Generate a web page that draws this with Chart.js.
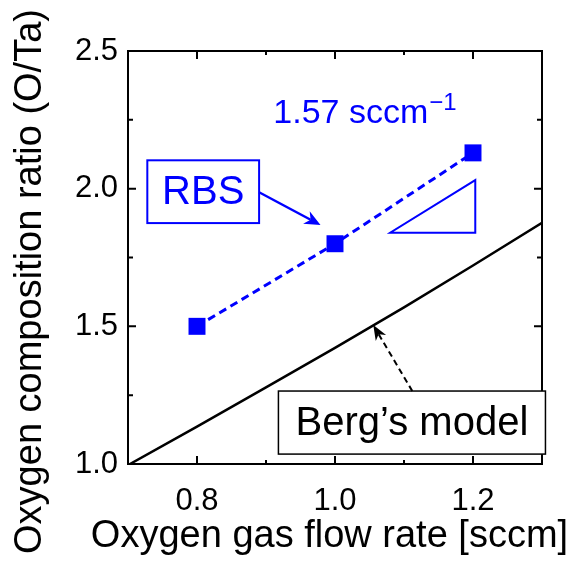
<!DOCTYPE html>
<html>
<head>
<meta charset="utf-8">
<script src="https://cdn.jsdelivr.net/npm/chart.js@4.4.0/dist/chart.umd.min.js"></script>
<style>
  html, body { margin: 0; padding: 0; background: #fff; }
  #wrap { width: 576px; height: 563px; }
</style>
</head>
<body>
<div id="wrap"><canvas id="c" width="576" height="563"></canvas></div>
<script>
// ── data ─────────────────────────────────────────
const flowRate  = [0.8, 1.0, 1.2];
const rbsRatio  = [1.50, 1.80, 2.13];
const bergFlow  = [0.70, 0.80, 0.90, 1.00, 1.10, 1.20, 1.30];
const bergRatio = [0.996, 1.136, 1.278, 1.422, 1.569, 1.721, 1.876];
const xTicks = [0.8, 1.0, 1.2];
const xMinor = [0.9, 1.1];
const yTicks = [1.0, 1.5, 2.0, 2.5];
const yMinor = [1.25, 1.75, 2.25];
const xTitle = 'Oxygen gas flow rate [sccm]';
const yTitle = 'Oxygen composition ratio (O/Ta)';
const slopeLabel = '1.57 sccm';
const slopeSup   = '\u22121';

// annotation anchors, in data units
const rbsBox    = { x0: 0.728, x1: 0.890, y0: 2.103, y1: 1.875, text: 'RBS' };
const rbsArrow  = { x0: 0.890, y0: 1.987, x1: 0.979, y1: 1.868 };
const bergBox   = { x0: 0.918, x1: 1.305, y0: 1.265, y1: 1.036, text: 'Berg\u2019s model' };
const bergArrow = { x0: 1.112, y0: 1.265, x1: 1.0555, y1: 1.5045 };
const slopeTri  = [[1.080, 1.840], [1.2033, 1.840], [1.2033, 2.031]];
const slopePos  = { x: 0.9106, y: 2.238 };

const BLUE = '#0000ff';
const FONT = '"Liberation Sans", Arial, Helvetica, sans-serif';

function arrow(ctx, x0, y0, x1, y1, len, half, dash) {
    const a = Math.atan2(y1 - y0, x1 - x0);
    const c = Math.cos(a), s = Math.sin(a);
    const nx = x1 - c * len * 0.7, ny = y1 - s * len * 0.7;
    ctx.beginPath();
    ctx.setLineDash(dash || []);
    ctx.moveTo(x0, y0);
    ctx.lineTo(nx, ny);
    ctx.stroke();
    ctx.setLineDash([]);
    ctx.beginPath();
    ctx.moveTo(x1, y1);
    ctx.lineTo(x1 - c * len + s * half, y1 - s * len - c * half);
    ctx.lineTo(nx, ny);
    ctx.lineTo(x1 - c * len - s * half, y1 - s * len + c * half);
    ctx.closePath();
    ctx.fill();
}

const deco = {
    id: 'deco',
    afterDraw(chart) {
        const { ctx, chartArea: a, scales: { x, y } } = chart;
        const X = v => x.getPixelForValue(v);
        const Y = v => y.getPixelForValue(v);
        ctx.save();

        // frame
        ctx.strokeStyle = '#000';
        ctx.lineWidth = 2;
        ctx.strokeRect(a.left, a.top, a.right - a.left, a.bottom - a.top);

        // inward ticks on all four sides
        ctx.beginPath();
        const tx = (v, l) => {
            const p = X(v);
            ctx.moveTo(p, a.bottom); ctx.lineTo(p, a.bottom - l);
            ctx.moveTo(p, a.top);    ctx.lineTo(p, a.top + l);
        };
        const ty = (v, l) => {
            const p = Y(v);
            ctx.moveTo(a.left, p);  ctx.lineTo(a.left + l, p);
            ctx.moveTo(a.right, p); ctx.lineTo(a.right - l, p);
        };
        xTicks.forEach(v => tx(v, 8));
        xMinor.forEach(v => tx(v, 4));
        yTicks.forEach(v => ty(v, 8));
        yMinor.forEach(v => ty(v, 5));
        ctx.stroke();

        // axis titles
        ctx.font = '38px ' + FONT;
        ctx.fillStyle = '#000';
        ctx.textAlign = 'center';
        ctx.textBaseline = 'middle';
        ctx.fillText(xTitle, 329.5, 537);
        ctx.save();
        ctx.translate(31, 281.5);
        ctx.rotate(-Math.PI / 2);
        ctx.fillText(yTitle, 0, 0);
        ctx.restore();

        // slope triangle
        ctx.strokeStyle = BLUE;
        ctx.lineWidth = 2;
        ctx.beginPath();
        slopeTri.forEach(([u, v], i) => i ? ctx.lineTo(X(u), Y(v)) : ctx.moveTo(X(u), Y(v)));
        ctx.closePath();
        ctx.stroke();

        // slope text
        ctx.fillStyle = BLUE;
        ctx.textAlign = 'left';
        ctx.textBaseline = 'alphabetic';
        ctx.font = '34px ' + FONT;
        const sx = X(slopePos.x), sy = Y(slopePos.y);
        ctx.fillText(slopeLabel, sx, sy);
        const w = ctx.measureText(slopeLabel).width;
        ctx.font = '24px ' + FONT;
        ctx.fillText(slopeSup, sx + w + 1, sy - 13);

        // RBS box + arrow
        ctx.fillStyle = '#fff';
        ctx.strokeStyle = BLUE;
        ctx.lineWidth = 2;
        let bx = X(rbsBox.x0), by = Y(rbsBox.y0), bw = X(rbsBox.x1) - bx, bh = Y(rbsBox.y1) - by;
        ctx.fillRect(bx, by, bw, bh);
        ctx.strokeRect(bx, by, bw, bh);
        ctx.fillStyle = BLUE;
        ctx.font = '40px ' + FONT;
        ctx.textAlign = 'center';
        ctx.textBaseline = 'middle';
        ctx.fillText(rbsBox.text, bx + bw / 2, by + bh / 2 + 1);
        ctx.lineWidth = 2.5;
        arrow(ctx, X(rbsArrow.x0), Y(rbsArrow.y0), X(rbsArrow.x1), Y(rbsArrow.y1), 16, 7);

        // Berg box + dashed arrow
        ctx.fillStyle = '#fff';
        ctx.strokeStyle = '#000';
        ctx.lineWidth = 1.5;
        bx = X(bergBox.x0); by = Y(bergBox.y0); bw = X(bergBox.x1) - bx; bh = Y(bergBox.y1) - by;
        ctx.fillRect(bx, by, bw, bh);
        ctx.strokeRect(bx, by, bw, bh);
        ctx.fillStyle = '#000';
        ctx.fillText(bergBox.text, bx + bw / 2, by + bh / 2 + 1);
        ctx.lineWidth = 2;
        arrow(ctx, X(bergArrow.x0), Y(bergArrow.y0), X(bergArrow.x1), Y(bergArrow.y1), 15, 6, [6, 4]);

        ctx.restore();
    }
};

new Chart(document.getElementById('c'), {
    type: 'scatter',
    data: {
        datasets: [{
            label: "Berg's model",
            data: bergFlow.map((v, i) => ({ x: v, y: bergRatio[i] })),
            showLine: true,
            borderColor: '#000',
            borderWidth: 2.5,
            pointRadius: 0,
            clip: 0
        }, {
            label: 'RBS',
            data: flowRate.map((v, i) => ({ x: v, y: rbsRatio[i] })),
            showLine: true,
            borderColor: BLUE,
            borderWidth: 3,
            borderDash: [8, 5],
            pointStyle: 'rect',
            pointRadius: 12,
            pointBorderWidth: 0,
            pointBackgroundColor: BLUE
        }]
    },
    options: {
        responsive: false,
        devicePixelRatio: 1,
        animation: false,
        layout: { padding: { left: 0, top: 51, right: 34, bottom: 0 } },
        plugins: { legend: { display: false }, tooltip: { enabled: false } },
        scales: {
            x: {
                type: 'linear', min: 0.7, max: 1.3,
                grid: { display: false, drawTicks: false },
                border: { display: false },
                afterBuildTicks: s => { s.ticks = xTicks.map(v => ({ value: v })); },
                afterFit: s => { s.height = 99; },
                ticks: {
                    color: '#000', padding: 19,
                    font: { family: FONT, size: 31 },
                    callback: v => v.toFixed(1)
                }
            },
            y: {
                type: 'linear', min: 1.0, max: 2.5,
                grid: { display: false, drawTicks: false },
                border: { display: false },
                afterBuildTicks: s => { s.ticks = yTicks.map(v => ({ value: v })); },
                afterFit: s => { s.width = 128; },
                ticks: {
                    color: '#000', padding: 10,
                    font: { family: FONT, size: 31 },
                    callback: v => v.toFixed(1)
                }
            }
        }
    },
    plugins: [deco]
});
</script>
</body>
</html>
